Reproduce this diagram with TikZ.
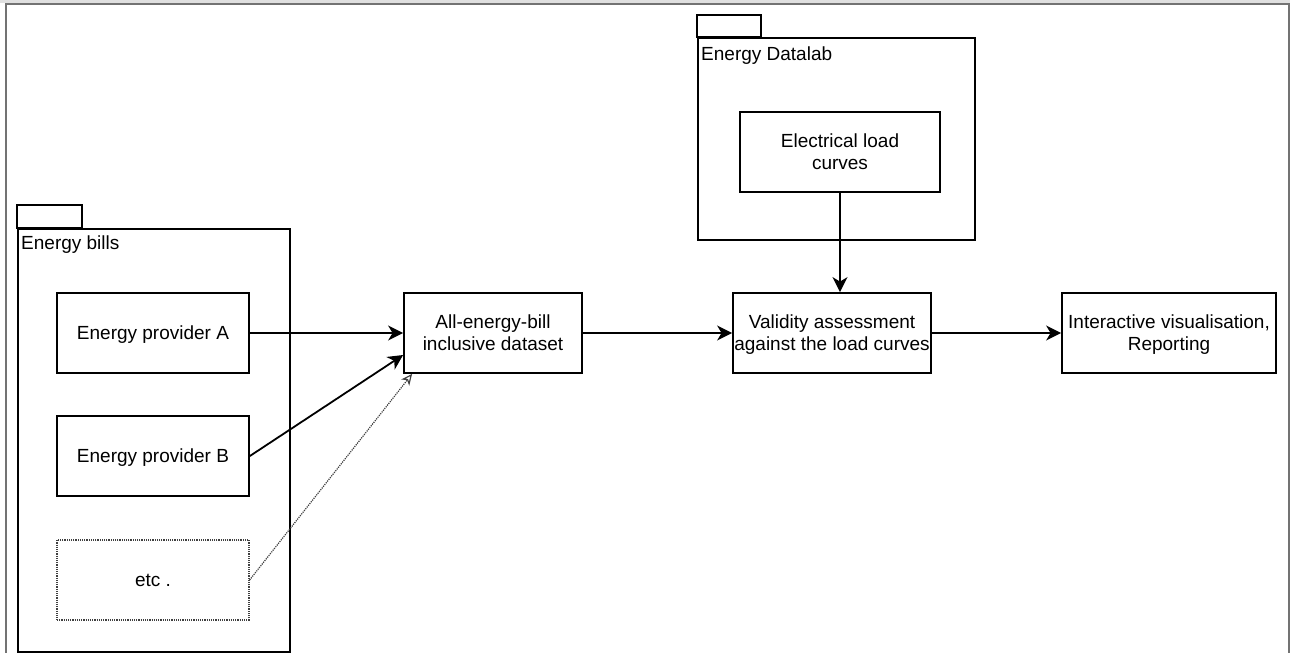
\documentclass[tikz,border=0pt]{standalone}
\usepackage{fontspec}
\setmainfont{Liberation Sans}
\usetikzlibrary{arrows.meta,positioning,calc}
\newcommand\boxfont{\fontsize{19}{22}\selectfont}
\tikzset{
  procbox/.style={draw=black,line width=1.8pt,fill=white,align=center,inner sep=0pt,
    minimum height=80pt,text depth=0pt,font=\boxfont},
  etcbox/.style={procbox,draw=black!75,line width=1.2pt,densely dotted},
  pkgbody/.style={draw=black,line width=1.8pt,anchor=north west,inner sep=0pt},
  pkgtab/.style={draw=black,line width=1.8pt},
  pkglabel/.style={anchor=north west,inner sep=0pt,font=\boxfont},
  framerule/.style={draw=black!55,line width=1.8pt},
  flowarrow/.style={-{Stealth[length=15pt,width=15pt,inset=4.5pt]},line width=1.8pt},
  dotarrow/.style={-{Stealth[length=11pt,width=10pt,inset=3pt,open]},densely dotted,
    line width=1.2pt,draw=black!75}
}
\begin{document}
\begin{tikzpicture}[x=1pt,y=-1pt]
  \useasboundingbox (0,0) rectangle (1290,653);
  % frame of the page
  \fill[black!12] (0,0) rectangle (1290,3);
  \draw[framerule] (6,653) -- (6,4) -- (1289,4) -- (1289,653);
  % package: energy bills
  \node[pkgbody,minimum width=272pt,minimum height=423pt] (bills) at (17,228) {};
  \draw[pkgtab] (bills.north west) rectangle ++(65,-23);
  \node[pkglabel] (billslbl) at ($(bills.north west)+(4,8)$) {Energy bills};
  \node[procbox,minimum width=192pt] (provA) at (153,333) {Energy provider A};
  \node[procbox,minimum width=192pt] (provB) at (153,456) {Energy provider B};
  \node[etcbox,minimum width=192pt] (etc) at (153,580) {etc .};
  % package: energy datalab
  \node[pkgbody,minimum width=277pt,minimum height=202pt] (datalab) at (697,37) {};
  \draw[pkgtab] (datalab.north west) rectangle ++(64,-22);
  \node[pkglabel] (datalablbl) at ($(datalab.north west)+(4,10)$) {Energy Datalab};
  \node[procbox,minimum width=200pt] (curves) at (840,152) {Electrical load\\curves};
  % processing chain
  \node[procbox,minimum width=178pt] (alldata) at (493,333) {All-energy-bill\\inclusive dataset};
  \node[procbox,minimum width=198pt] (valid) at (832,333) {Validity assessment\\against the load curves};
  \node[procbox,minimum width=214pt] (report) at (1169,333) {Interactive visualisation,\\Reporting};
  % connectors
  \coordinate (inB) at ($(alldata.west)+(0,22)$);
  \coordinate (inEtc) at ($(alldata.south west)+(9,0)$);
  \draw[flowarrow] (provA.east) -- (alldata.west);
  \draw[flowarrow] (provB.east) -- (inB);
  \draw[dotarrow] (etc.east) -- (inEtc);
  \draw[flowarrow] (alldata.east) -- (valid.west);
  \draw[flowarrow] (valid.east) -- (report.west);
  \draw[flowarrow] (curves.south) -- (curves.south |- valid.north);
\end{tikzpicture}
\end{document}
